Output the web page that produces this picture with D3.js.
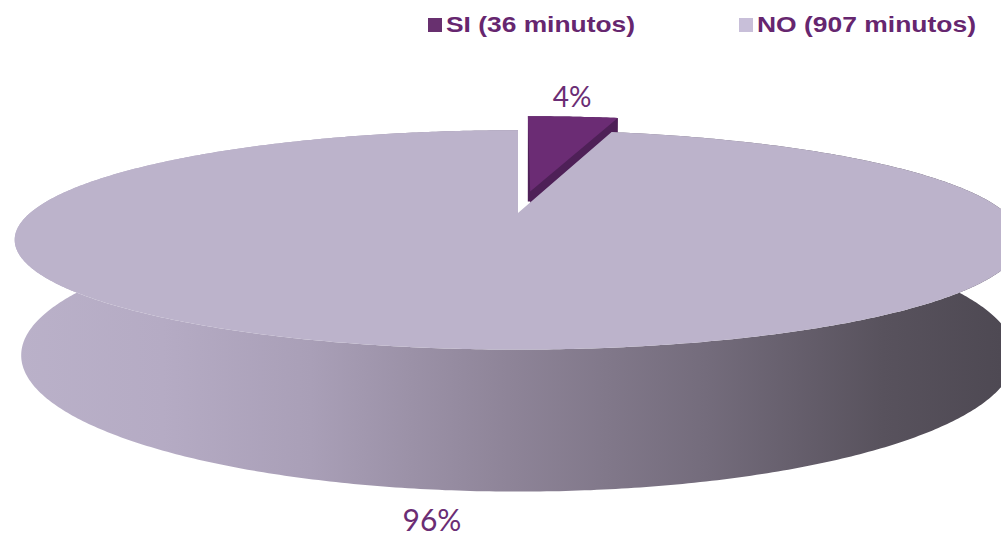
<!DOCTYPE html>
<html>
<head>
<meta charset="utf-8">
<script src="https://cdn.jsdelivr.net/npm/d3@7"></script>
<style>
  html, body { margin: 0; padding: 0; background: #fff; }
  svg { display: block; }
</style>
</head>
<body>
<div id="pie_chart"></div>
<script>
// data
var categories = ["SI (36 minutos)", "NO (907 minutos)"];
var minutes = [36, 907];
var pctLabels = ["4%", "96%"];
var topColors = ["#6b2c74", "#bcb3cb"];
var legendColors = ["#68306f", "#c8bfd9"];
var explode = [0.22, 0];

function pie3d(id) {
    var width = 1001, height = 535;

    var svg = d3.select("#" + id)
        .html("")
        .append("svg")
        .attr("width", width)
        .attr("height", height);

    // simple perspective camera looking at the pie centre
    var F = 1947, L = 3.99, phi = 12.2 * Math.PI / 180,
        cx = 518, cy = 213, depthH = 0.232;
    var H = L * Math.sin(phi), D = L * Math.cos(phi);

    function project(X, Y, Z) {
        var dep = -(Y - H) * Math.sin(phi) + (Z + D) * Math.cos(phi);
        var up = (Y - H) * Math.cos(phi) + (Z + D) * Math.sin(phi);
        return [cx + F * X / dep, cy - F * up / dep];
    }

    var pie = d3.pie().sort(null).value(function (d) { return d; });
    var arcs = pie(minutes);

    var line = d3.line();

    function rim(a0, a1, ox, oz, Y) {
        var n = Math.max(4, Math.ceil((a1 - a0) / 0.01)), pts = [];
        for (var i = 0; i <= n; i++) {
            var a = a0 + (a1 - a0) * i / n;
            pts.push(project(ox + Math.sin(a), Y, oz + Math.cos(a)));
        }
        return pts;
    }

    var defs = svg.append("defs");
    var grad = defs.append("linearGradient")
        .attr("id", "wallGrad")
        .attr("gradientUnits", "userSpaceOnUse")
        .attr("x1", 15).attr("x2", 1001).attr("y1", 0).attr("y2", 0);
    [[0, "#bab1c9"], [0.15, "#b5abc4"], [0.3, "#a99fb7"], [0.5, "#8e8498"],
     [0.7, "#746c7c"], [0.88, "#58525d"], [1, "#4e4953"]].forEach(function (s) {
        grad.append("stop").attr("offset", s[0]).attr("stop-color", s[1]);
    });

    var g = svg.append("g");

    // draw exploded small slice first, then the big one in front
    [0, 1].forEach(function (i) {
        var d = arcs[i];
        var mid = (d.startAngle + d.endAngle) / 2;
        var ox = explode[i] * Math.sin(mid), oz = explode[i] * Math.cos(mid);
        var apexT = project(ox, 0, oz), apexB = project(ox, -depthH, oz);

        var topRim = rim(d.startAngle, d.endAngle, ox, oz, 0);
        var botRim = rim(d.startAngle, d.endAngle, ox, oz, -depthH);

        if (i === 0) {
            // radial face at the end angle is visible
            var ea = d.endAngle;
            var face = [apexT, project(ox + Math.sin(ea), 0, oz + Math.cos(ea)),
                        project(ox + Math.sin(ea), -depthH, oz + Math.cos(ea)), apexB];
            g.append("path")
                .attr("d", line(face) + "Z")
                .attr("fill", "#4e2057");
        }

        // outer wall
        g.append("path")
            .attr("d", line(topRim.concat(botRim.slice().reverse())) + "Z")
            .attr("fill", i === 1 ? "url(#wallGrad)" : "#4e2057");

        // top face
        g.append("path")
            .attr("d", line([apexT].concat(topRim)) + "Z")
            .attr("fill", topColors[i]);
    });

    // percentage labels
    var labelPos = [[572, 107], [432, 531]];
    var labelSize = [28, 30];
    pctLabels.forEach(function (t, i) {
        svg.append("text")
            .attr("x", labelPos[i][0])
            .attr("y", labelPos[i][1])
            .attr("text-anchor", "middle")
            .style("font-family", "Lato, 'Open Sans', sans-serif")
            .style("font-size", labelSize[i] + "px")
            .style("fill", "#6b2d74")
            .text(t);
    });

    // legend
    var legendX = [428, 739];
    var legendW = [189, 219];
    var legend = svg.append("g");
    categories.forEach(function (c, i) {
        legend.append("rect")
            .attr("x", legendX[i])
            .attr("y", 18)
            .attr("width", 14)
            .attr("height", 14)
            .attr("fill", legendColors[i]);
        legend.append("text")
            .attr("x", legendX[i] + 18)
            .attr("y", 32)
            .attr("textLength", legendW[i])
            .attr("lengthAdjust", "spacingAndGlyphs")
            .style("font-family", "'Liberation Sans', Arial, sans-serif")
            .style("font-weight", "bold")
            .style("font-size", "22px")
            .style("fill", "#66266f")
            .text(c);
    });
}

pie3d("pie_chart");
</script>
</body>
</html>
